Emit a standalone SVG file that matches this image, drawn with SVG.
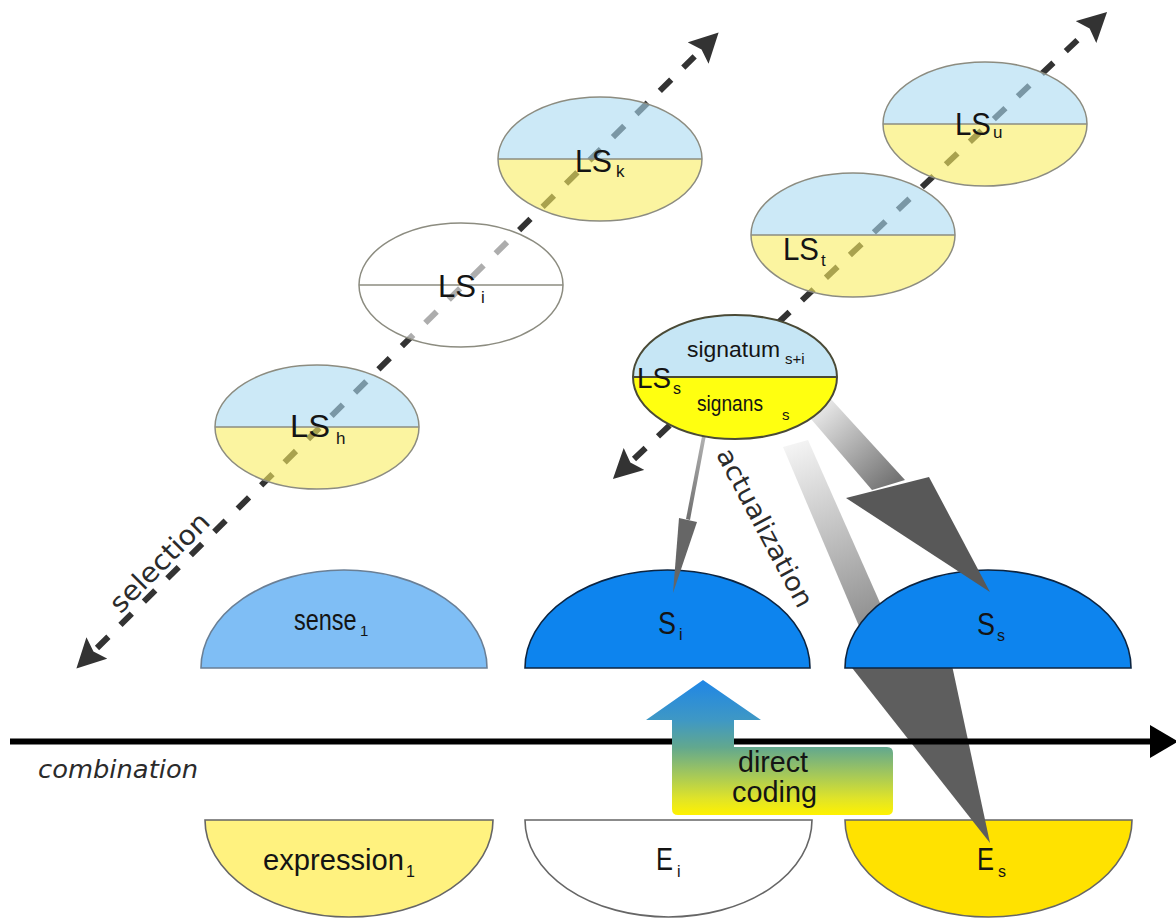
<svg xmlns="http://www.w3.org/2000/svg" width="1176" height="922" viewBox="0 0 1176 922">
  <defs>
    <style>
      .lbl{font-family:"Liberation Sans",Arial,sans-serif;fill:#141414;}
      .dv{font-family:"DejaVu Sans",Verdana,sans-serif;fill:#2b2b2b;}
      .sel{fill:none;stroke:#333;stroke-width:6;stroke-dasharray:16 17;}
      .top-b{fill:#aadaf2;fill-opacity:.6;}
      .bot-y{fill:#f8ed61;fill-opacity:.6;}
      .half-w{fill:#fff;fill-opacity:.6;}
      .rim{fill:none;stroke:#8c8c80;stroke-width:1.5;}
      .rim-s{fill:none;stroke:#4a4a36;stroke-width:2;}
      .sense{stroke:#0c2440;stroke-width:1.6;}
      .expr{stroke:#666;stroke-width:1.6;}
    </style>
    <marker id="dash-head" markerUnits="userSpaceOnUse" markerWidth="30" markerHeight="30" viewBox="0 -15 30 30" refX="0" refY="0" orient="auto-start-reverse">
      <path d="M0,-15 L29,0 L0,15 L5,0 Z" fill="#333"/>
    </marker>
    <linearGradient id="code-grad" gradientUnits="userSpaceOnUse" x1="0" y1="680" x2="0" y2="815">
      <stop offset="0" stop-color="#1f86e6"/>
      <stop offset="0.3" stop-color="#3f98c4"/>
      <stop offset="0.5" stop-color="#62a88e"/>
      <stop offset="0.7" stop-color="#a4c85a"/>
      <stop offset="0.88" stop-color="#e0e428"/>
      <stop offset="1" stop-color="#fff200"/>
    </linearGradient>
    <linearGradient id="thin-grad" gradientUnits="userSpaceOnUse" x1="708" y1="413" x2="687" y2="520">
      <stop offset="0" stop-color="#c4c4c4"/>
      <stop offset="1" stop-color="#6e6e6e"/>
    </linearGradient>
    <linearGradient id="wide-grad" gradientUnits="userSpaceOnUse" x1="812" y1="402" x2="888" y2="488">
      <stop offset="0" stop-color="#f2f2f2"/>
      <stop offset="1" stop-color="#737373"/>
    </linearGradient>
    <linearGradient id="long-grad" gradientUnits="userSpaceOnUse" x1="795" y1="443" x2="880" y2="640">
      <stop offset="0" stop-color="#f4f4f4"/>
      <stop offset="1" stop-color="#858585"/>
    </linearGradient>
  </defs>

  <rect width="1176" height="922" fill="#fff"/>

  <!-- selection axes (dashed, double-headed) -->
  <g id="connectors-selection">
    <line class="sel" x1="97" y1="648" x2="698" y2="53" marker-start="url(#dash-head)" marker-end="url(#dash-head)"/>
    <line class="sel" x1="634" y1="459" x2="1086" y2="32" marker-start="url(#dash-head)" marker-end="url(#dash-head)"/>
  </g>

  <!-- lexical signs -->
  <g id="ls-h" transform="translate(317,427)">
    <path class="top-b" d="M-102,0 A102,62 0 0 1 102,0 Z"/>
    <path class="bot-y" d="M-102,0 A102,62 0 0 0 102,0 Z"/>
    <ellipse class="rim" rx="102" ry="62"/>
    <line class="rim" x1="-102" y1="0" x2="102" y2="0"/>
  </g>
  <g id="ls-i" transform="translate(461,285)">
    <ellipse class="half-w" rx="102" ry="62"/>
    <ellipse class="rim" rx="102" ry="62"/>
    <line class="rim" x1="-102" y1="0" x2="102" y2="0"/>
  </g>
  <g id="ls-k" transform="translate(600,159)">
    <path class="top-b" d="M-102,0 A102,62 0 0 1 102,0 Z"/>
    <path class="bot-y" d="M-102,0 A102,62 0 0 0 102,0 Z"/>
    <ellipse class="rim" rx="102" ry="62"/>
    <line class="rim" x1="-102" y1="0" x2="102" y2="0"/>
  </g>
  <g id="ls-t" transform="translate(853,235)">
    <path class="top-b" d="M-102,0 A102,62 0 0 1 102,0 Z"/>
    <path class="bot-y" d="M-102,0 A102,62 0 0 0 102,0 Z"/>
    <ellipse class="rim" rx="102" ry="62"/>
    <line class="rim" x1="-102" y1="0" x2="102" y2="0"/>
  </g>
  <g id="ls-u" transform="translate(985,124)">
    <path class="top-b" d="M-102,0 A102,62 0 0 1 102,0 Z"/>
    <path class="bot-y" d="M-102,0 A102,62 0 0 0 102,0 Z"/>
    <ellipse class="rim" rx="102" ry="62"/>
    <line class="rim" x1="-102" y1="0" x2="102" y2="0"/>
  </g>

  <!-- expressions -->
  <g id="expression-1">
    <path class="expr" d="M205,820 A144,97 0 0 0 493,820 Z" fill="#fff27f"/>
  </g>
  <g id="e-i">
    <path class="expr" d="M525,820 A143.5,97 0 0 0 812,820 Z" fill="#fff" stroke="#333"/>
  </g>
  <g id="e-s">
    <path class="expr" d="M845,820 A143.5,97 0 0 0 1132,820 Z" fill="#ffe200" stroke="#555"/>
  </g>

  <!-- long actualization arrow: LS_s to E_s, passing behind S_s -->
  <g id="connector-long">
    <polygon points="783,447 808,440 900,648 870,652" fill="url(#long-grad)"/>
    <polygon points="849,664 950,656 990,843" fill="#5e5e5e"/>
  </g>

  <!-- senses -->
  <g id="sense-1">
    <path d="M201,668 A143,98 0 0 1 487,668 Z" fill="#7fbef5" stroke="#6a7f95" stroke-width="1.6"/>
  </g>
  <g id="s-i">
    <path class="sense" d="M525,668 A142.5,98 0 0 1 810,668 Z" fill="#0d84ee"/>
  </g>
  <g id="s-s">
    <path class="sense" d="M845,668 A143,98 0 0 1 1131,668 Z" fill="#0d84ee"/>
  </g>

  <!-- actualization arrows onto the senses -->
  <g id="connectors-actualization">
    <polygon points="706.5,413 710,414 690,520 686,519" fill="url(#thin-grad)"/>
    <polygon points="679,518 697,522 673,593" fill="#666"/>
    <polygon points="805,412 830,398 905,480 872,490" fill="url(#wide-grad)"/>
    <polygon points="846,498 929,477 990,592" fill="#585858"/>
  </g>

  <!-- LS_s, the sign being actualized -->
  <g id="ls-s" transform="translate(735,377)">
    <path d="M-102,0 A102,62 0 0 1 102,0 Z" fill="#c6e6f5"/>
    <path d="M-102,0 A102,62 0 0 0 102,0 Z" fill="#ffff10"/>
    <ellipse class="rim-s" rx="102" ry="62"/>
    <line class="rim-s" x1="-102" y1="0" x2="102" y2="0"/>
  </g>

  <!-- combination axis -->
  <g id="connector-combination">
    <line x1="10" y1="741.5" x2="1152" y2="741.5" stroke="#000" stroke-width="6"/>
    <polygon points="1150,725 1178,741.5 1150,758" fill="#000"/>
  </g>

  <!-- direct coding -->
  <g id="direct-coding">
    <path d="M703,680 L761,720 L734,720 L734,747 L887,747 Q893,747 893,753 L893,809 Q893,815 887,815 L678,815 Q672,815 672,809 L672,720 L646,720 Z" fill="url(#code-grad)"/>
    <text class="lbl" x="773" y="772" font-size="29" text-anchor="middle" textLength="70" lengthAdjust="spacingAndGlyphs">direct</text>
    <text class="lbl" x="774.5" y="802" font-size="29" text-anchor="middle" textLength="85" lengthAdjust="spacingAndGlyphs">coding</text>
  </g>

  <!-- labels -->
  <g id="labels">
    <text class="lbl" x="290" y="437" font-size="32" textLength="40" lengthAdjust="spacingAndGlyphs">LS</text>
    <text class="lbl" x="336" y="444" font-size="17">h</text>
    <text class="lbl" x="438" y="297" font-size="32" textLength="38" lengthAdjust="spacingAndGlyphs">LS</text>
    <text class="lbl" x="481" y="303" font-size="17">i</text>
    <text class="lbl" x="575" y="172" font-size="32" textLength="37" lengthAdjust="spacingAndGlyphs">LS</text>
    <text class="lbl" x="616" y="177" font-size="17">k</text>
    <text class="lbl" x="783" y="260" font-size="32" textLength="36" lengthAdjust="spacingAndGlyphs">LS</text>
    <text class="lbl" x="821" y="266" font-size="17">t</text>
    <text class="lbl" x="955" y="135" font-size="32" textLength="36" lengthAdjust="spacingAndGlyphs">LS</text>
    <text class="lbl" x="993" y="138" font-size="17">u</text>

    <text class="lbl" x="687" y="357" font-size="22" textLength="93" lengthAdjust="spacingAndGlyphs">signatum</text>
    <text class="lbl" x="785" y="364" font-size="15">s+i</text>
    <text class="lbl" x="637" y="388" font-size="29" textLength="34" lengthAdjust="spacingAndGlyphs">LS</text>
    <text class="lbl" x="673" y="394" font-size="16">s</text>
    <text class="lbl" x="697" y="411" font-size="22" textLength="66" lengthAdjust="spacingAndGlyphs">signans</text>
    <text class="lbl" x="782" y="420" font-size="15">s</text>

    <text class="lbl" transform="translate(294,630) scale(0.81,1)" font-size="29" fill="#0b1f3a">sense</text>
    <text class="lbl" x="360" y="636" font-size="15">1</text>
    <text class="lbl" x="658" y="634" font-size="31" textLength="18" lengthAdjust="spacingAndGlyphs">S</text>
    <text class="lbl" x="679" y="640" font-size="16">i</text>
    <text class="lbl" x="977" y="635" font-size="31" textLength="18" lengthAdjust="spacingAndGlyphs">S</text>
    <text class="lbl" x="997" y="641" font-size="16">s</text>

    <text class="lbl" x="263" y="870" font-size="30" textLength="141" lengthAdjust="spacingAndGlyphs">expression</text>
    <text class="lbl" x="406" y="877" font-size="16">1</text>
    <text class="lbl" x="656" y="870" font-size="31" textLength="17" lengthAdjust="spacingAndGlyphs">E</text>
    <text class="lbl" x="677" y="877" font-size="16">i</text>
    <text class="lbl" x="977" y="870" font-size="31" textLength="17" lengthAdjust="spacingAndGlyphs">E</text>
    <text class="lbl" x="998" y="877" font-size="16">s</text>

    <text class="dv" transform="translate(166,569) rotate(-45)" font-size="27" text-anchor="middle" textLength="129" lengthAdjust="spacingAndGlyphs">selection</text>
    <text class="dv" transform="translate(757,532) rotate(62)" font-size="26" text-anchor="middle" textLength="176" lengthAdjust="spacingAndGlyphs">actualization</text>
    <text class="dv" x="38" y="778" font-size="25" font-style="italic" textLength="160" lengthAdjust="spacingAndGlyphs">combination</text>
  </g>
</svg>
